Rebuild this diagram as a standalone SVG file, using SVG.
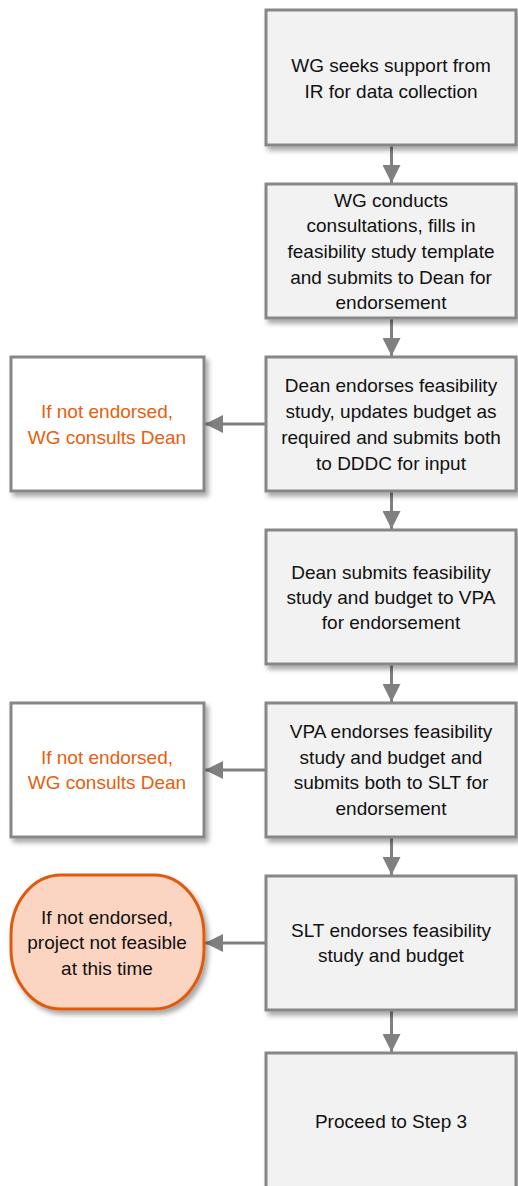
<svg xmlns="http://www.w3.org/2000/svg" width="518" height="1186" viewBox="0 0 518 1186">
<style>
.box{fill:#f2f2f2;stroke:#878787;stroke-width:3;filter:url(#sh)}
.alt{fill:#ffffff;stroke:#878787;stroke-width:3;filter:url(#sh)}
.term{fill:#fbd5c1;stroke:#e05a0f;stroke-width:3;filter:url(#sh)}
text{font-family:"Liberation Sans",Arial,sans-serif;font-size:19px;text-anchor:middle;fill:#111}
.or{fill:#e5600f}
.con{stroke:#808080;stroke-width:3;fill:none;marker-end:url(#ah)}
</style>
<defs>
<filter id="sh" x="-10%" y="-10%" width="130%" height="130%">
<feDropShadow dx="3" dy="4" stdDeviation="2.5" flood-color="#000" flood-opacity="0.35"/>
</filter>
<marker id="ah" viewBox="0 0 10 10" refX="10" refY="5" markerWidth="6" markerHeight="6" orient="auto" markerUnits="strokeWidth">
<path d="M0,0 L10,5 L0,10 Z" fill="#808080"/>
</marker>
</defs>
<g id="connectors">
<line class="con" x1="391.5" y1="146" x2="391.5" y2="183"/>
<line class="con" x1="391.5" y1="319" x2="391.5" y2="356"/>
<line class="con" x1="391.5" y1="492" x2="391.5" y2="529"/>
<line class="con" x1="391.5" y1="665" x2="391.5" y2="702"/>
<line class="con" x1="391.5" y1="838" x2="391.5" y2="875"/>
<line class="con" x1="391.5" y1="1011" x2="391.5" y2="1052"/>
<line class="con" x1="265" y1="424" x2="205" y2="424"/>
<line class="con" x1="265" y1="770" x2="205" y2="770"/>
<line class="con" x1="265" y1="943" x2="205" y2="943"/>
</g>
<g id="n1"><rect class="box" x="266" y="10" width="250" height="135"/>
<text x="391" y="72">WG seeks support from</text><text x="391" y="98">IR for data collection</text></g>
<g id="n2"><rect class="box" x="266" y="184" width="250" height="134"/>
<text x="391" y="207">WG conducts</text><text x="391" y="232">consultations, fills in</text><text x="391" y="258">feasibility study template</text><text x="391" y="284">and submits to Dean for</text><text x="391" y="309">endorsement</text></g>
<g id="n3"><rect class="box" x="266" y="357" width="250" height="134"/>
<text x="391" y="392">Dean endorses feasibility</text><text x="391" y="418">study, updates budget as</text><text x="391" y="444">required and submits both</text><text x="391" y="470">to DDDC for input</text></g>
<g id="n3b"><rect class="alt" x="11" y="357" width="193" height="134"/>
<text class="or" x="107" y="418">If not endorsed,</text><text class="or" x="107" y="444">WG consults Dean</text></g>
<g id="n4"><rect class="box" x="266" y="530" width="250" height="134"/>
<text x="391" y="579">Dean submits feasibility</text><text x="391" y="604">study and budget to VPA</text><text x="391" y="629">for endorsement</text></g>
<g id="n5"><rect class="box" x="266" y="703" width="250" height="134"/>
<text x="391" y="738">VPA endorses feasibility</text><text x="391" y="764">study and budget and</text><text x="391" y="789">submits both to SLT for</text><text x="391" y="815">endorsement</text></g>
<g id="n5b"><rect class="alt" x="11" y="703" width="193" height="134"/>
<text class="or" x="107" y="764">If not endorsed,</text><text class="or" x="107" y="789">WG consults Dean</text></g>
<g id="n6"><rect class="box" x="266" y="876" width="250" height="134"/>
<text x="391" y="937">SLT endorses feasibility</text><text x="391" y="962">study and budget</text></g>
<g id="n6b"><rect class="term" x="11" y="875" width="193" height="134" rx="50" ry="60"/>
<text x="107" y="924">If not endorsed,</text><text x="107" y="949">project not feasible</text><text x="107" y="975">at this time</text></g>
<g id="n7"><rect class="box" x="266" y="1053" width="250" height="140"/>
<text x="391" y="1128">Proceed to Step 3</text></g>
</svg>
